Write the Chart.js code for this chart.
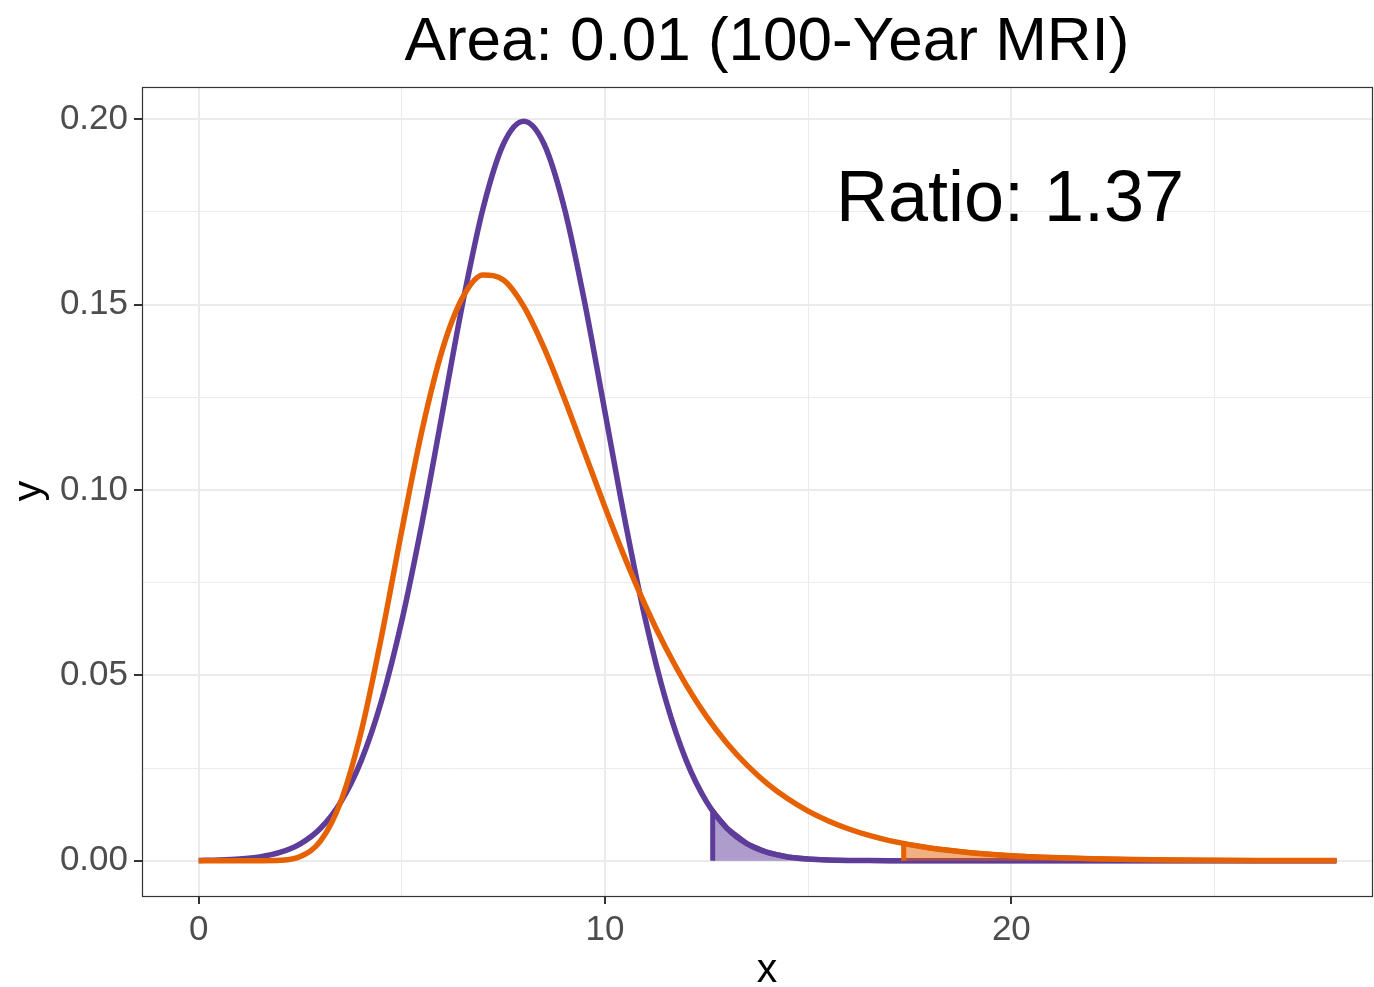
<!DOCTYPE html>
<html>
<head>
<meta charset="utf-8">
<script src="https://cdn.jsdelivr.net/npm/chart.js@4.4.0/dist/chart.umd.min.js"></script>
<style>
  html, body { margin: 0; padding: 0; background: #ffffff; }
  #wrap { width: 1374px; height: 987px; }
</style>
</head>
<body>
<div id="wrap"><canvas id="chart" width="1374" height="987"></canvas></div>
<script>
// values
const xValues = [0, 0.5, 1, 1.5, 2, 2.5, 3, 3.5, 4, 4.5, 5, 5.5, 6, 6.5, 7, 7.5, 8, 8.5, 9, 9.5,
  10, 10.5, 11, 11.5, 12, 12.5, 13, 13.5, 14, 14.5, 15, 15.5, 16, 16.5, 17,
  18, 19, 20, 21, 22, 23, 24, 25, 26, 27, 28];

const purpleY = [0.000067, 0.000176, 0.000436, 0.001015, 0.002216, 0.004546, 0.008764, 0.01587, 0.02700, 0.04315,
  0.06476, 0.09132, 0.12098, 0.15056, 0.17603, 0.19333, 0.19947, 0.19333, 0.17603, 0.15056,
  0.12098, 0.09132, 0.06476, 0.04315, 0.02700, 0.01587, 0.008764, 0.004546, 0.002216, 0.001015,
  0.000436, 0.000176, 0.000067, 0.000024, 0.000008,
  0, 0, 0, 0, 0, 0, 0, 0, 0, 0, 0];

const orangeY = [0, 0, 0, 0.000003, 0.000108, 0.001109, 0.005343, 0.01601, 0.03481, 0.06047,
  0.08916, 0.11625, 0.13794, 0.15201, 0.15799, 0.15666, 0.14952, 0.13831, 0.12469, 0.11001,
  0.09535, 0.08141, 0.06864, 0.05728, 0.04736, 0.03886, 0.03170, 0.02571, 0.02075, 0.01670,
  0.01338, 0.01071, 0.008545, 0.006808, 0.005419,
  0.003420, 0.002156, 0.001356, 0.000854, 0.000539, 0.000341, 0.000216, 0.000138, 0.000088, 0.000056, 0.000036];

// where the 1% tail starts for each curve
const purpleCut = [12.65, 0.01337];
const orangeCut = [17.35, 0.004614];

const xMajor = [0, 10, 20];
const xGrid = [0, 5, 10, 15, 20, 25];
const yMajor = [0, 0.05, 0.1, 0.15, 0.2];
const yGrid = [0, 0.025, 0.05, 0.075, 0.1, 0.125, 0.15, 0.175, 0.2];

const titleText = "Area: 0.01 (100-Year MRI)";
const ratioText = "Ratio: 1.37";

const PURPLE = "#5e3c99";
const ORANGE = "#e66101";
const FONT = "'Liberation Sans', Arial, sans-serif";

function toPoints(ys) {
  return xValues.map((x, i) => ({ x: x, y: ys[i] }));
}

function tailPoints(ys, cut) {
  const pts = [{ x: cut[0], y: 0 }, { x: cut[0], y: cut[1] }];
  xValues.forEach((x, i) => {
    if (x > cut[0]) pts.push({ x: x, y: ys[i] });
  });
  return pts;
}

const isMajor = (list, v) => list.some((m) => Math.abs(m - v) < 1e-9);

// panel border, title, annotation and axis titles
const decorations = {
  id: "decorations",
  afterDraw(chart) {
    const ctx = chart.ctx;
    const a = chart.chartArea;
    ctx.save();
    ctx.strokeStyle = "#333333";
    ctx.lineWidth = 1.2;
    ctx.strokeRect(a.left - 0.5, a.top + 0.5, a.right - a.left, a.bottom - a.top);

    ctx.fillStyle = "#000000";
    ctx.textAlign = "center";
    ctx.textBaseline = "alphabetic";
    ctx.font = "62px " + FONT;
    ctx.fillText(titleText, 767, 60);

    ctx.font = "72px " + FONT;
    ctx.fillText(ratioText, 1010, 221);

    ctx.font = "41px " + FONT;
    ctx.fillText("x", 767, 982);

    ctx.translate(41, 491);
    ctx.rotate(-Math.PI / 2);
    ctx.fillText("y", 0, 0);
    ctx.restore();
  }
};

const ctx = document.getElementById("chart").getContext("2d");

new Chart(ctx, {
  type: "line",
  data: {
    datasets: [
      {
        label: "orange",
        data: toPoints(orangeY),
        borderColor: ORANGE,
        borderWidth: 5.5,
        pointRadius: 0,
        fill: false,
        cubicInterpolationMode: "monotone",
        order: 1,
      },
      {
        label: "orange tail",
        data: tailPoints(orangeY, orangeCut),
        borderColor: ORANGE,
        backgroundColor: "rgba(230, 97, 1, 0.5)",
        borderWidth: 5,
        pointRadius: 0,
        tension: 0,
        fill: "origin",
        order: 2,
      },
      {
        label: "purple",
        data: toPoints(purpleY),
        borderColor: PURPLE,
        borderWidth: 5.5,
        pointRadius: 0,
        fill: false,
        cubicInterpolationMode: "monotone",
        order: 3,
      },
      {
        label: "purple tail",
        data: tailPoints(purpleY, purpleCut),
        borderColor: PURPLE,
        backgroundColor: "rgba(94, 60, 153, 0.5)",
        borderWidth: 5,
        pointRadius: 0,
        tension: 0,
        fill: "origin",
        order: 4,
      },
    ],
  },
  options: {
    responsive: false,
    animation: false,
    layout: { padding: { top: 87, right: 1, left: 0, bottom: 0 } },
    plugins: {
      legend: { display: false },
      tooltip: { enabled: false },
    },
    scales: {
      x: {
        type: "linear",
        min: -1.37,
        max: 28.9,
        afterBuildTicks: (scale) => {
          scale.ticks = xGrid.map((v) => ({ value: v }));
        },
        afterFit: (scale) => {
          scale.height = 91;
        },
        border: { display: false },
        grid: {
          color: "#ebebeb",
          lineWidth: (c) => (isMajor(xMajor, c.tick.value) ? 2 : 1),
          tickColor: (c) => (isMajor(xMajor, c.tick.value) ? "#333333" : "rgba(0,0,0,0)"),
          tickLength: 8,
          tickWidth: 2,
        },
        ticks: {
          autoSkip: false,
          maxRotation: 0,
          padding: 5,
          color: "#4d4d4d",
          font: { family: FONT, size: 35 },
          callback: (v) => (isMajor(xMajor, v) ? String(v) : ""),
        },
      },
      y: {
        type: "linear",
        min: -0.00952,
        max: 0.2087,
        afterBuildTicks: (scale) => {
          scale.ticks = yGrid.map((v) => ({ value: v }));
        },
        afterFit: (scale) => {
          scale.width = 143;
        },
        border: { display: false },
        grid: {
          color: "#ebebeb",
          lineWidth: (c) => (isMajor(yMajor, c.tick.value) ? 2 : 1),
          tickColor: (c) => (isMajor(yMajor, c.tick.value) ? "#333333" : "rgba(0,0,0,0)"),
          tickLength: 9,
          tickWidth: 2,
        },
        ticks: {
          autoSkip: false,
          padding: 6,
          color: "#4d4d4d",
          font: { family: FONT, size: 35 },
          callback: (v) => (isMajor(yMajor, v) ? v.toFixed(2) : ""),
        },
      },
    },
  },
  plugins: [decorations],
});
</script>
</body>
</html>
